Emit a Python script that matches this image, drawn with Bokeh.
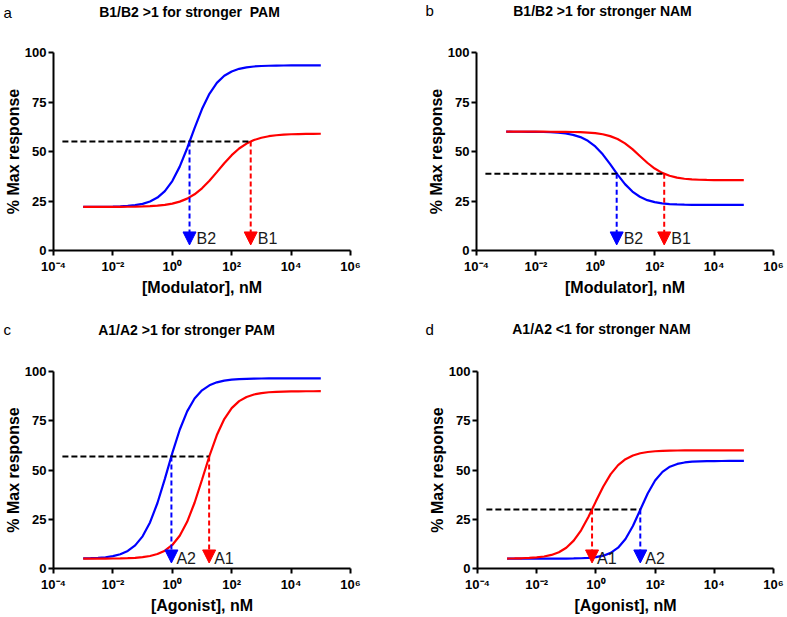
from bokeh.plotting import figure
from bokeh.models import Range1d, FixedTicker, Arrow, NormalHead
from bokeh.layouts import column, row
from bokeh.core.properties import value
from bokeh.embed import file_html
from bokeh.resources import INLINE

# ---------------- data (log10 of concentration, % max response) ----------------
x_log = [-3.0, -2.75, -2.5, -2.25, -2.0, -1.75, -1.5, -1.25, -1.0, -0.75, -0.5, -0.25,
         0.0, 0.25, 0.5, 0.75, 1.0, 1.25, 1.5, 1.75, 2.0, 2.25, 2.5, 2.75, 3.0, 3.25,
         3.5, 3.75, 4.0, 4.25, 4.5, 4.75, 5.0]

a_blue = [22.0, 22.03, 22.05, 22.09, 22.16, 22.28, 22.5, 22.89, 23.57, 24.74, 26.73, 29.99,
          35.08, 42.36, 51.64, 61.85, 71.43, 79.14, 84.65, 88.24, 90.44, 91.75, 92.51, 92.94,
          93.18, 93.32, 93.41, 93.44, 93.46, 93.48, 93.49, 93.49, 93.5]
a_red = [22.0, 22.01, 22.01, 22.02, 22.04, 22.06, 22.09, 22.15, 22.25, 22.41, 22.66, 23.06,
         23.7, 24.69, 26.2, 28.39, 31.4, 35.22, 39.59, 44.07, 48.16, 51.5, 54.01, 55.77,
         56.95, 57.72, 58.2, 58.51, 58.7, 58.81, 58.89, 58.93, 58.96]

b_blue = [59.99, 59.98, 59.97, 59.95, 59.91, 59.84, 59.71, 59.49, 59.09, 58.42, 57.28, 55.42,
          52.57, 48.58, 43.62, 38.34, 33.53, 29.77, 27.14, 25.44, 24.42, 23.81, 23.46, 23.26,
          23.15, 23.08, 23.05, 23.03, 23.01, 23.01, 23.0, 23.0, 23.0]
b_red = [60.0, 60.0, 60.0, 60.0, 59.99, 59.99, 59.98, 59.96, 59.92, 59.86, 59.76, 59.57,
         59.25, 58.7, 57.77, 56.3, 54.11, 51.18, 47.75, 44.32, 41.39, 39.2, 37.73, 36.8,
         36.25, 35.93, 35.74, 35.64, 35.58, 35.54, 35.52, 35.51, 35.51]

c_blue = [5.13, 5.23, 5.41, 5.72, 6.27, 7.24, 8.92, 11.73, 16.33, 23.37, 33.25, 45.51,
          58.57, 70.45, 79.76, 86.27, 90.45, 92.99, 94.5, 95.36, 95.86, 96.14, 96.3, 96.38,
          96.44, 96.46, 96.48, 96.49, 96.49, 96.5, 96.5, 96.5, 96.5]
c_red = [5.01, 5.01, 5.02, 5.04, 5.08, 5.13, 5.24, 5.43, 5.75, 6.33, 7.33, 9.05,
         11.95, 16.63, 23.69, 33.38, 45.05, 57.11, 67.74, 75.86, 81.42, 84.96, 87.08, 88.33,
         89.06, 89.46, 89.7, 89.83, 89.91, 89.95, 89.97, 89.98, 89.99]

d_red = [5.06, 5.11, 5.19, 5.35, 5.61, 6.08, 6.89, 8.26, 10.55, 14.15, 19.4, 26.28,
         34.08, 41.64, 47.91, 52.48, 55.5, 57.38, 58.49, 59.14, 59.52, 59.73, 59.85, 59.91,
         59.95, 59.97, 59.98, 59.99, 60.0, 60.0, 60.0, 60.0, 60.0]
d_blue = [5.0, 5.0, 5.0, 5.0, 5.0, 5.01, 5.01, 5.02, 5.05, 5.1, 5.2, 5.39,
          5.77, 6.52, 7.94, 10.55, 14.96, 21.56, 29.8, 38.04, 44.64, 49.06, 51.67, 53.08,
          53.83, 54.21, 54.4, 54.5, 54.55, 54.58, 54.59, 54.6, 54.6]

# reference level (black dashed line) and the two potencies marked by arrows
dash_start = -3.7
a_level, a_blue_mark, a_red_mark = 55.0, 0.58, 2.64
b_level, b_blue_mark, b_red_mark = 38.8, 0.72, 2.32
c_level, c_blue_mark, c_red_mark = 56.8, -0.03, 1.24
d_level, d_blue_mark, d_red_mark = 30.0, 1.5, -0.13
arrow_tip = 2.8

x_ticks = [-4, -2, 0, 2, 4, 6]
x_tick_labels = ["10\u207b\u2074", "10\u207b\u00b2", "10\u2070", "10\u00b2", "10\u2074", "10\u2076"]
y_ticks = [0, 25, 50, 75, 100]

titles = ["B1/B2 >1 for stronger\u00a0 PAM", "B1/B2 >1 for stronger NAM",
          "A1/A2 >1 for stronger PAM", "A1/A2 <1 for stronger NAM"]
letters = ["a", "b", "c", "d"]
x_labels = ["[Modulator], nM", "[Modulator], nM", "[Agonist], nM", "[Agonist], nM"]

FONT = "Liberation Sans"
BLUE = "#0000FF"
RED = "#FF0000"


def header(width, height, title, title_x, title_y, letter, letter_x, letter_y):
    """Strip above a panel holding its bold title and panel letter (pixel coordinates)."""
    h = figure(width=width, height=height, x_range=Range1d(0, width), y_range=Range1d(height, 0),
               output_backend="svg", toolbar_location=None,
               x_axis_location=None, y_axis_location=None,
               min_border_left=0, min_border_right=0, min_border_top=0, min_border_bottom=0)
    h.outline_line_color = None
    h.xgrid.visible = False
    h.ygrid.visible = False
    h.text(x=[title_x], y=[title_y], text=[title], text_font=value(FONT),
           text_font_size=value("14px"), text_font_style=value("bold"), text_color="black",
           text_align=value("center"), text_baseline=value("middle"))
    h.text(x=[letter_x], y=[letter_y], text=[letter], text_font=value(FONT),
           text_font_size=value("15px"), text_color="black",
           text_align=value("left"), text_baseline=value("middle"))
    return h


def make_panel(width, height, left, top, frame_w, frame_h, xlabel):
    p = figure(width=width, height=height, x_range=Range1d(-4, 6), y_range=Range1d(0, 100),
               output_backend="svg", toolbar_location=None,
               min_border_left=left, min_border_right=width - left - frame_w,
               min_border_top=top, min_border_bottom=height - top - frame_h)
    p.outline_line_color = None
    p.xgrid.visible = False
    p.ygrid.visible = False
    for ax in (p.xaxis[0], p.yaxis[0]):
        ax.axis_line_width = 2
        ax.axis_line_color = "black"
        ax.major_tick_line_width = 2
        ax.major_tick_line_color = "black"
        ax.major_tick_in = 0
        ax.major_tick_out = 5
        ax.minor_tick_line_color = None
        ax.major_label_text_font = FONT
        ax.major_label_text_font_style = "bold"
        ax.major_label_text_font_size = "13px"
        ax.major_label_text_color = "black"
        ax.axis_label_text_font = FONT
        ax.axis_label_text_font_style = "bold"
        ax.axis_label_text_font_size = "16px"
        ax.axis_label_text_color = "black"
        ax.major_label_standoff = 2
    p.xaxis.ticker = FixedTicker(ticks=x_ticks)
    p.xaxis.major_label_overrides = {t: s for t, s in zip(x_ticks, x_tick_labels)}
    p.xaxis.axis_label = xlabel
    p.xaxis.axis_label_standoff = 2
    p.xaxis.major_label_standoff = 3
    p.yaxis.ticker = FixedTicker(ticks=y_ticks)
    p.yaxis.axis_label = "% Max response"
    p.yaxis.axis_label_standoff = 0
    return p


def decorate(p, blue, red, level, blue_mark, red_mark, blue_name, red_name, name_dx, name_y):
    p.line(x_log, blue, line_color=BLUE, line_width=2.2)
    p.line(x_log, red, line_color=RED, line_width=2.2)
    end = max(blue_mark, red_mark)
    p.line([dash_start, end], [level, level], line_color="black", line_width=2, line_dash="6 3")
    for mark, col in ((blue_mark, BLUE), (red_mark, RED)):
        p.add_layout(Arrow(end=NormalHead(size=13, fill_color=col, line_color=col, line_width=1),
                           x_start=mark, y_start=level, x_end=mark, y_end=arrow_tip,
                           line_color=col, line_width=2, line_dash="5 3"))
    p.text(x=[blue_mark, red_mark], y=[name_y, name_y], text=[blue_name, red_name],
           x_offset=name_dx, text_font=value(FONT), text_font_size=value("16px"),
           text_color="#1a1a1a", text_align=value("left"), text_baseline=value("middle"))


ta = header(390, 30, titles[0], 189, 11, letters[0], 3, 12)
tb = header(397, 30, titles[1], 212, 10.5, letters[1], 35, 10)
tc = header(390, 30, titles[2], 186, 19.5, letters[2], 3, 19)
td = header(397, 30, titles[3], 211, 18.5, letters[3], 35, 18.5)

pa = make_panel(390, 280, 53, 22, 297, 198, x_labels[0])
decorate(pa, a_blue, a_red, a_level, a_blue_mark, a_red_mark, "B2", "B1", 7, 6.0)

pb = make_panel(397, 280, 86, 22, 297, 198, x_labels[1])
decorate(pb, b_blue, b_red, b_level, b_blue_mark, b_red_mark, "B2", "B1", 7, 6.0)

pc = make_panel(390, 277, 53, 31, 297, 197, x_labels[2])
decorate(pc, c_blue, c_red, c_level, c_blue_mark, c_red_mark, "A2", "A1", 5, 5.2)

pd_ = make_panel(397, 277, 87, 31, 296, 197, x_labels[3])
decorate(pd_, d_blue, d_red, d_level, d_blue_mark, d_red_mark, "A2", "A1", 5, 5.2)

layout = column(row(ta, tb), row(pa, pb), row(tc, td), row(pc, pd_))

open("out.html", "w").write(file_html(layout, INLINE))
